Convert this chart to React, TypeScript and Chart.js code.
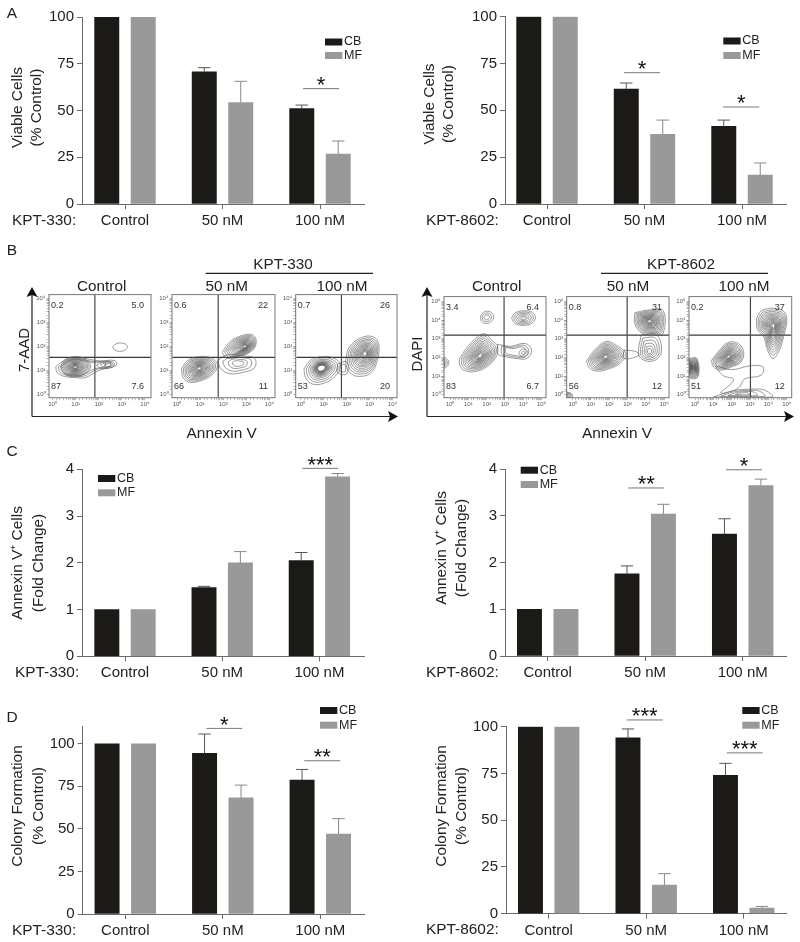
import React, { useEffect, useRef } from "react";
import { Chart, registerables } from "chart.js";

Chart.register(...registerables);
const FONT = '"Liberation Sans", Arial, sans-serif';
Chart.defaults.font.family = FONT;

// ---------- bar data ----------
const categories = ["Control", "50 nM", "100 nM"];
const viable330CB = [100, 70.7, 51];
const viable330MF = [100, 54.3, 26.7];
const viable330CBTop = [null, 72.9, 52.9];
const viable330MFTop = [null, 65.6, 33.7];
const viable8602CB = [100, 61.3, 41.5];
const viable8602MF = [100, 37.2, 15.4];
const viable8602CBTop = [null, 64.6, 44.8];
const viable8602MFTop = [null, 44.8, 21.9];
const annexin330CB = [1, 1.47, 2.05];
const annexin330MF = [1, 2.0, 3.84];
const annexin330CBTop = [null, 1.497, 2.22];
const annexin330MFTop = [null, 2.24, 3.91];
const annexin8602CB = [1, 1.76, 2.61];
const annexin8602MF = [1, 3.04, 3.65];
const annexin8602CBTop = [null, 1.93, 2.94];
const annexin8602MFTop = [null, 3.25, 3.79];
const colony330CB = [100, 94.3, 78.6];
const colony330MF = [100, 68.2, 47];
const colony330CBTop = [null, 105.7, 84.9];
const colony330MFTop = [null, 75.7, 56];
const colony8602CB = [100, 94.1, 74];
const colony8602MF = [100, 15.3, 3];
const colony8602CBTop = [null, 98.8, 80.4];
const colony8602MFTop = [null, 21.4, 3.9];

// significance brackets: [from, to (category units), value, stars]
const sigViable330 = [[1.826, 2.195, 61.7, "*"]];
const sigViable8602 = [[0.79, 1.159, 70.1, "*"], [1.808, 2.177, 51.8, "*"]];
const sigAnnexin330 = [[1.824, 2.194, 4.02, "***"]];
const sigAnnexin8602 = [[0.827, 1.196, 3.6, "**"], [1.829, 2.198, 3.99, "*"]];
const sigColony330 = [[0.831, 1.2, 109, "*"], [1.836, 2.205, 90, "**"]];
const sigColony8602 = [[0.8, 1.169, 103.6, "***"], [1.826, 2.195, 86, "***"]];

const seriesNames = ["CB", "MF"];
const CB_COLOR = "#1c1a17";
const MF_COLOR = "#999999";
const AXIS = "#6b6b6b";
const INK = "#222222";

const barPanels = [
  { box: [0, 0, 400, 232], axis: [82, 364, 17, 204], ticks: [125, 320], yMax: 100, step: 25, cb: viable330CB, mf: viable330MF, cbTop: viable330CBTop, mfTop: viable330MFTop, sig: sigViable330, prefix: ["KPT-330:", 12], title: ["Viable Cells", "(% Control)"], titleX: [18, 37], titleY: 107.5, legend: [325, 38.5, 52] },
  { box: [400, 0, 400, 232], axis: [505, 786.7, 16.7, 204], ticks: [547, 742], yMax: 100, step: 25, cb: viable8602CB, mf: viable8602MF, cbTop: viable8602CBTop, mfTop: viable8602MFTop, sig: sigViable8602, prefix: ["KPT-8602:", 426], title: ["Viable Cells", "(% Control)"], titleX: [430, 449], titleY: 104, legend: [723.3, 37.5, 52] },
  { box: [0, 440, 400, 240], axis: [82, 364, 469.3, 656.3], ticks: [125, 319.4], yMax: 4, step: 1, cb: annexin330CB, mf: annexin330MF, cbTop: annexin330CBTop, mfTop: annexin330MFTop, sig: sigAnnexin330, prefix: ["KPT-330:", 15], title: ["Annexin V\u207a Cells", "(Fold Change)"], titleX: [18, 39], titleY: 563, legend: [98, 475, 489.3] },
  { box: [400, 440, 400, 240], axis: [505, 786.7, 469.3, 656], ticks: [547.7, 742.7], yMax: 4, step: 1, cb: annexin8602CB, mf: annexin8602MF, cbTop: annexin8602CBTop, mfTop: annexin8602MFTop, sig: sigAnnexin8602, prefix: ["KPT-8602:", 426], title: ["Annexin V\u207a Cells", "(Fold Change)"], titleX: [441.7, 461.7], titleY: 548, legend: [520.7, 466.7, 481] },
  { box: [0, 695, 400, 247], axis: [82.7, 364, 726.7, 914], ticks: [125.3, 320.3], yMax: 110, step: 25, cb: colony330CB, mf: colony330MF, cbTop: colony330CBTop, mfTop: colony330MFTop, sig: sigColony330, prefix: ["KPT-330:", 12], title: ["Colony Formation", "(% Control)"], titleX: [18, 39], titleY: 806, legend: [320, 707, 721.7] },
  { box: [400, 695, 400, 247], axis: [506, 786.7, 726.7, 913.7], ticks: [548.7, 743.7], yMax: 100, step: 25, cb: colony8602CB, mf: colony8602MF, cbTop: colony8602CBTop, mfTop: colony8602MFTop, sig: sigColony8602, prefix: ["KPT-8602:", 426], title: ["Colony Formation", "(% Control)"], titleX: [441.7, 461.7], titleY: 806, legend: [742.3, 707, 721.7] },
];

// ---------- flow cytometry data (log10 coordinates) ----------
const dense = [1, 0.9, 0.81, 0.73, 0.65, 0.58, 0.52, 0.46, 0.41, 0.36, 0.31, 0.26, 0.22, 0.18, 0.14, 0.1];
const hollow = [1, 0.86, 0.73, 0.62, 0.54, 0.48, 0.43, 0.39, 0.36, 0.33, 0.3, 0.27, 0.25, 0.23, 0.21];
const mid = [1, 0.82, 0.65, 0.48, 0.32, 0.18];
const few = [1, 0.7, 0.4];
const single = [1];

const contour7aadControl = [
  { c: [0.98, 1.125], rings: [1, 0.86, 0.74], outer: [[0.14, 1.15], [0.47, 1.39], [0.98, 1.57], [1.51, 1.47], [2.06, 1.39], [2.7, 1.4], [2.75, 1.19], [2.06, 1.01], [1.41, 0.69], [0.98, 0.69], [0.47, 0.75], [0.19, 0.92]] },
  { c: [0.98, 1.125], rings: dense, outer: [[0.35, 1.15], [0.55, 1.45], [0.98, 1.55], [1.45, 1.45], [1.65, 1.15], [1.4, 0.85], [0.98, 0.72], [0.55, 0.82]] },
  { c: [2.45, 1.22], rings: few, outer: [[1.9, 1.22], [2.2, 1.34], [2.6, 1.35], [2.68, 1.22], [2.5, 1.1], [2.1, 1.08]] },
  { c: [2.92, 1.96], rings: single, outer: [[2.6, 1.96], [2.7, 2.08], [2.92, 2.14], [3.16, 2.09], [3.24, 1.98], [3.12, 1.84], [2.9, 1.79], [2.7, 1.84]] },
];
const contour7aad50 = [
  { c: [0.96, 1.08], rings: dense, outer: [[0.19, 1.05], [0.45, 1.4], [0.95, 1.57], [1.5, 1.5], [1.75, 1.2], [1.5, 0.8], [1, 0.55], [0.5, 0.5], [0.25, 0.7]] },
  { c: [2.95, 1.99], rings: dense, outer: [[1.95, 1.75], [2.3, 2.2], [2.8, 2.45], [3.3, 2.47], [3.42, 2.1], [3.15, 1.75], [2.6, 1.55], [2.15, 1.5]] },
  { c: [2.66, 1.29], rings: [1, 0.75, 0.5, 0.3], outer: [[1.75, 1.4], [2.2, 1.65], [2.8, 1.6], [3.35, 1.5], [3.35, 1.1], [2.8, 0.9], [2.3, 0.85], [1.9, 1.05]] },
];
const contour7aad100 = [
  { c: [0.89, 1.11], rings: hollow, outer: [[0.14, 1.05], [0.4, 1.4], [0.9, 1.57], [1.45, 1.5], [1.73, 1.2], [1.5, 0.75], [1, 0.45], [0.5, 0.42], [0.2, 0.7]] },
  { c: [2.8, 1.7], rings: dense, outer: [[1.95, 1.4], [2.1, 1.95], [2.6, 2.35], [3.15, 2.4], [3.4, 2.05], [3.3, 1.3], [3, 0.85], [2.5, 0.74], [2.2, 0.85], [2, 1.1]] },
  { c: [1.8, 1.08], rings: [1, 0.6], outer: [[1.6, 1.25], [2, 1.35], [2, 0.85], [1.6, 0.9]] },
];
const contourDapiControl = [
  { c: [1.64, 2.08], rings: dense, outer: [[0.5, 1.9], [0.9, 2.5], [1.5, 3.1], [1.9, 3.27], [2.3, 2.9], [2.6, 2.6], [2.5, 2], [2, 1.5], [1.4, 1.25], [0.8, 1.3], [0.55, 1.55]] },
  { c: [3.7, 2.3], rings: [1, 0.8, 0.6], outer: [[2.6, 2.7], [3.3, 2.6], [4.1, 2.75], [4.45, 2.4], [4.2, 1.95], [3.6, 1.95], [3, 2.05], [2.6, 2.2]] },
  { c: [4, 2.24], rings: [1, 0.4], outer: [[3.75, 2.24], [3.9, 2.42], [4.12, 2.42], [4.25, 2.24], [4.1, 2.06], [3.9, 2.06]] },
  { c: [2, 4.15], rings: few, outer: [[1.65, 4.15], [1.78, 4.38], [2.05, 4.48], [2.32, 4.35], [2.38, 4.12], [2.22, 3.9], [1.95, 3.82], [1.72, 3.93]] },
  { c: [4, 4.1], rings: mid, outer: [[3.36, 4.1], [3.55, 4.38], [4, 4.5], [4.5, 4.42], [4.66, 4.12], [4.45, 3.82], [4, 3.72], [3.55, 3.82]] },
  { c: [-0.33, 1.7], rings: few, outer: [[-0.33, 1.4], [-0.1, 1.6], [-0.1, 1.85], [-0.33, 2]] },
];
const contourDapi50 = [
  { c: [1.8, 2.03], rings: dense, outer: [[0.75, 1.8], [1.2, 2.4], [1.8, 2.85], [2.3, 2.7], [2.9, 2.2], [2.6, 1.7], [2, 1.4], [1.4, 1.27], [0.95, 1.4]] },
  { c: [4.2, 3.95], rings: dense, outer: [[3.4, 4.4], [3.4, 3.8], [3.8, 3.3], [4.5, 3.2], [4.95, 3.3], [4.95, 4.5], [4.2, 4.55]] },
  { c: [4.2, 2.3], rings: mid, outer: [[3.75, 3.2], [4.6, 3.2], [4.85, 2.3], [4.5, 1.85], [3.9, 1.85], [3.6, 2.2]] },
  { c: [3.2, 2.15], rings: single, outer: [[2.8, 2.4], [3.5, 2.3], [3.6, 2.1], [2.8, 1.95]] },
  { c: [-0.2, 0], rings: few, outer: [[-0.33, 0.15], [-0.05, 0.05], [-0.05, -0.14], [-0.33, -0.14]] },
];
const contourDapi100 = [
  { c: [1.82, 2.03], rings: dense, outer: [[0.9, 1.85], [1.3, 2.35], [1.8, 2.8], [2.35, 2.75], [2.65, 2.3], [2.5, 1.75], [2, 1.5], [1.4, 1.32], [1, 1.5]] },
  { c: [4.27, 3.7], rings: dense, outer: [[3.35, 4.1], [3.7, 4.55], [4.7, 4.55], [5, 4.1], [4.85, 3.2], [4.6, 2.4], [4.25, 1.95], [3.95, 2.4], [3.75, 3.1], [3.4, 3.5]] },
  { c: [-0.1, 1.45], rings: dense, outer: [[-0.33, 1.95], [0.1, 1.95], [0.15, 0.95], [-0.33, 0.95]] },
  { c: [2.6, 1.1], rings: single, outer: [[1.1, 1.55], [2, 1.35], [3, 1.55], [3.7, 1.5], [3.6, 1.05], [2.7, 0.85], [2.35, 0.35], [1.4, 0.1], [2.1, 0.8], [1.5, 1.05]] },
  { c: [2.6, 0.05], rings: [1, 0.75, 0.5, 0.25], outer: [[1, -0.12], [2, 0.2], [3, 0.3], [3.8, 0.25], [4.2, -0.12]] },
];

const quad7aadControl = ["0.2", "5.0", "87", "7.6"];
const quad7aad50 = ["0.6", "22", "66", "11"];
const quad7aad100 = ["0.7", "26", "53", "20"];
const quadDapiControl = ["3.4", "6.4", "83", "6.7"];
const quadDapi50 = ["0.8", "31", "56", "12"];
const quadDapi100 = ["0.2", "37", "51", "12"];

const flowPlots = [
  { frame: [49, 151, 294.3, 397.7], xR: [-0.14, 4.26], yR: [-0.14, 4.17], top: 4, gate: [1.83, 1.54], contours: contour7aadControl, quad: quad7aadControl },
  { frame: [172, 275, 294.3, 397.7], xR: [-0.2, 4.24], yR: [-0.14, 4.17], top: 4, gate: [1.78, 1.54], contours: contour7aad50, quad: quad7aad50 },
  { frame: [295.7, 397, 294.3, 397.7], xR: [-0.19, 4.19], yR: [-0.14, 4.17], top: 4, gate: [1.77, 1.54], contours: contour7aad100, quad: quad7aad100 },
  { frame: [444, 546, 295.7, 397.7], xR: [-0.33, 5.24], yR: [-0.14, 5.26], top: 5, gate: [2.95, 3.2], contours: contourDapiControl, quad: quadDapiControl },
  { frame: [566.7, 669, 295.7, 397.7], xR: [-0.33, 5.27], yR: [-0.14, 5.26], top: 5, gate: [2.98, 3.2], contours: contourDapi50, quad: quadDapi50 },
  { frame: [689, 791.7, 295.7, 397.7], xR: [-0.33, 5.27], yR: [-0.14, 5.26], top: 5, gate: [3.02, 3.2], contours: contourDapi100, quad: quadDapi100 },
];

// ---------- page text ----------
const pageTexts = [
  ["A", 12, 13, 15.5], ["B", 12, 250, 15.5], ["C", 12, 451, 15.5], ["D", 12, 717, 15.5],
  ["KPT-330", 283, 264, 15.3], ["KPT-8602", 681, 264, 15.3],
  ["Control", 101.7, 285.5, 15.3], ["50 nM", 226.7, 285.5, 15.3], ["100 nM", 342, 285.5, 15.3],
  ["Control", 496.7, 285.5, 15.3], ["50 nM", 628, 285.5, 15.3], ["100 nM", 744, 285.5, 15.3],
  ["Annexin V", 221.7, 433, 15.4], ["Annexin V", 617, 433, 15.4],
];
const rotatedTexts = [["7-AAD", 23, 350, 15], ["DAPI", 416, 354, 15]];

const BAR_OFFSET = 0.187;

function barConfig(p: any) {
  const [cl, ct, cw, ch] = p.box;
  const [L, R, T, B] = p.axis;
  const s = (p.ticks[1] - p.ticks[0]) / 2;
  const xMin = (L - p.ticks[0]) / s;
  const xMax = (R - p.ticks[0]) / s;
  const overlay = {
    id: "overlay",
    afterDraw(chart: any) {
      const { ctx, scales } = chart;
      const x = scales.x, y = scales.y;
      ctx.save();
      // error bars
      [[p.cb, p.cbTop, -BAR_OFFSET, "#555555"], [p.mf, p.mfTop, BAR_OFFSET, "#888888"]].forEach(([vals, tops, off, col]: any) => {
        tops.forEach((t: any, i: number) => {
          if (t == null) return;
          const px = x.getPixelForValue(i + off);
          ctx.strokeStyle = col;
          ctx.lineWidth = 1;
          ctx.beginPath();
          ctx.moveTo(px, y.getPixelForValue(vals[i]));
          ctx.lineTo(px, y.getPixelForValue(t));
          ctx.moveTo(px - 6.2, y.getPixelForValue(t));
          ctx.lineTo(px + 6.2, y.getPixelForValue(t));
          ctx.stroke();
        });
      });
      // significance
      p.sig.forEach(([a, b, v, stars]: any) => {
        const ya = y.getPixelForValue(v);
        const xa = x.getPixelForValue(a), xb = x.getPixelForValue(b);
        ctx.strokeStyle = "#777777";
        ctx.lineWidth = 1;
        ctx.beginPath();
        ctx.moveTo(xa, ya);
        ctx.lineTo(xb, ya);
        ctx.stroke();
        ctx.fillStyle = "#111111";
        ctx.font = `22px ${FONT}`;
        ctx.textAlign = "center";
        ctx.textBaseline = "alphabetic";
        ctx.fillText(stars, (xa + xb) / 2, ya + 3.5);
      });
      // legend
      const [lx, ly1, ly2] = p.legend;
      [[seriesNames[0], ly1, CB_COLOR], [seriesNames[1], ly2, MF_COLOR]].forEach(([name, ly, col]: any) => {
        ctx.fillStyle = col;
        ctx.fillRect(lx - cl, ly - ct, 17.3, 7);
        ctx.fillStyle = INK;
        ctx.font = `12.5px ${FONT}`;
        ctx.textAlign = "left";
        ctx.textBaseline = "middle";
        ctx.fillText(name, lx + 19 - cl, ly + 3.5 - ct);
      });
      // prefix
      ctx.fillStyle = INK;
      ctx.font = `15.4px ${FONT}`;
      ctx.textAlign = "left";
      ctx.textBaseline = "middle";
      ctx.fillText(p.prefix[0], p.prefix[1] - cl, B + 16.5 - ct);
      // y title
      p.title.forEach((line: string, i: number) => {
        ctx.save();
        ctx.translate(p.titleX[i] - cl, p.titleY - ct);
        ctx.rotate(-Math.PI / 2);
        ctx.textAlign = "center";
        ctx.textBaseline = "middle";
        ctx.fillText(line, 0, 0);
        ctx.restore();
      });
      ctx.restore();
    },
  };
  const toPts = (vals: number[], off: number) => vals.map((v, i) => ({ x: i + off, y: v }));
  const bar = { maxBarThickness: 24.3, barPercentage: 1, categoryPercentage: 1, grouped: false };
  return {
    type: "bar",
    data: {
      datasets: [
        { label: seriesNames[0], data: toPts(p.cb, -BAR_OFFSET), backgroundColor: CB_COLOR, ...bar },
        { label: seriesNames[1], data: toPts(p.mf, BAR_OFFSET), backgroundColor: MF_COLOR, ...bar },
      ],
    },
    options: {
      responsive: false,
      animation: false,
      events: [],
      layout: { autoPadding: false, padding: { left: 0, bottom: 0, top: T - ct, right: cl + cw - R } },
      plugins: { legend: { display: false }, tooltip: { enabled: false } },
      scales: {
        x: {
          type: "linear",
          offset: false,
          min: xMin,
          max: xMax,
          afterFit: (sc: any) => { sc.height = ct + ch - B; },
          afterBuildTicks: (sc: any) => { sc.ticks = categories.map((_, i) => ({ value: i })); },
          border: { color: AXIS, width: 1 },
          grid: { offset: false, drawOnChartArea: false, drawTicks: true, tickLength: 5, color: AXIS },
          ticks: { autoSkip: false, maxRotation: 0, padding: 3, color: INK, font: { size: 15 }, callback: (v: number) => categories[v] },
        },
        y: {
          min: 0,
          max: p.yMax,
          afterFit: (sc: any) => { sc.width = L - cl; },
          afterBuildTicks: (sc: any) => { sc.ticks = sc.ticks.filter((t: any) => t.value % p.step === 0); },
          border: { color: AXIS, width: 1 },
          grid: { drawOnChartArea: false, drawTicks: true, tickLength: 5, color: AXIS },
          ticks: { stepSize: p.step, padding: 3, color: INK, font: { size: 15 } },
        },
      },
    },
    plugins: [overlay],
  };
}

const SUP = ["\u2070", "\u00b9", "\u00b2", "\u00b3", "\u2074", "\u2075"];

function flowConfig(p: any, cl: number, ct: number, cw: number, ch: number) {
  const [L, R, T, B] = p.frame;
  const datasets: any[] = [];
  const line = (pts: number[][], color: string, width: number, tension: number) => ({
    data: pts.map(([x, y]) => ({ x: 10 ** x, y: 10 ** y })),
    showLine: true, tension, borderColor: color, borderWidth: width, pointRadius: 0, fill: false,
  });
  p.contours.forEach((blob: any) => {
    blob.rings.forEach((f: number) => {
      const pts = blob.outer.map(([x, y]: number[]) => [blob.c[0] + (x - blob.c[0]) * f, blob.c[1] + (y - blob.c[1]) * f]);
      pts.push(pts[0]);
      datasets.push(line(pts, "#575757", 0.6, 0.4));
    });
  });
  datasets.push(line([[p.gate[0], p.yR[0]], [p.gate[0], p.yR[1]]], "#484848", 1.2, 0));
  datasets.push(line([[p.xR[0], p.gate[1]], [p.xR[1], p.gate[1]]], "#383838", 1.2, 0));
  const overlay = {
    id: "flowOverlay",
    afterDraw(chart: any) {
      const { ctx, chartArea: a } = chart;
      ctx.save();
      ctx.strokeStyle = "#777777";
      ctx.lineWidth = 1;
      ctx.strokeRect(a.left, a.top, a.width, a.height);
      ctx.fillStyle = "#333333";
      ctx.font = `9px ${FONT}`;
      ctx.textBaseline = "middle";
      ctx.textAlign = "left";
      ctx.fillText(p.quad[0], a.left + 2, a.top + 11);
      ctx.fillText(p.quad[2], a.left + 2, a.bottom - 11);
      ctx.textAlign = "right";
      ctx.fillText(p.quad[1], a.right - 7, a.top + 11);
      ctx.fillText(p.quad[3], a.right - 7, a.bottom - 11);
      ctx.restore();
    },
  };
  const axis = (range: number[], top: number, fit: (s: any) => void) => ({
    type: "logarithmic",
    min: 10 ** range[0],
    max: 10 ** range[1],
    afterFit: fit,
    afterBuildTicks: (sc: any) => { sc.ticks = sc.ticks.filter((t: any) => t.value >= 0.999 && t.value <= 10 ** top * 1.001); },
    border: { display: false },
    grid: { drawOnChartArea: false, drawTicks: true, tickLength: 2.5, color: "#777777", lineWidth: 0.5 },
    ticks: {
      autoSkip: false, maxRotation: 0, padding: 1, color: "#555555", font: { size: 6 },
      callback: (v: number) => {
        const e = Math.log10(v);
        return Math.abs(e - Math.round(e)) < 1e-6 ? "10" + SUP[Math.round(e)] : "";
      },
    },
  });
  return {
    type: "scatter",
    data: { datasets },
    options: {
      responsive: false,
      animation: false,
      events: [],
      layout: { autoPadding: false, padding: { top: T - ct, right: cl + cw - R, left: 0, bottom: 0 } },
      plugins: { legend: { display: false }, tooltip: { enabled: false } },
      scales: {
        x: axis(p.xR, p.top, (s: any) => { s.height = ct + ch - B; }),
        y: axis(p.yR, p.top, (s: any) => { s.width = L - cl; }),
      },
    },
    plugins: [overlay],
  };
}

function ChartCanvas({ make, box, soft }: { make: () => any; box: number[]; soft?: boolean }) {
  const ref = useRef<HTMLCanvasElement>(null);
  useEffect(() => {
    const chart = new Chart(ref.current as any, make());
    return () => chart.destroy();
  }, []);
  return (
    <canvas
      ref={ref}
      width={box[2]}
      height={box[3]}
      style={{ position: "absolute", left: box[0], top: box[1], width: box[2], height: box[3], display: "block", filter: soft ? "blur(0.4px)" : undefined }}
    />
  );
}

export default function App() {
  return (
    <div style={{ position: "absolute", left: 0, top: 0, width: 800, height: 942, overflow: "hidden", background: "#fff", fontFamily: FONT, color: INK }}>
      {barPanels.map((p, i) => (
        <ChartCanvas key={"b" + i} box={p.box} make={() => barConfig(p)} />
      ))}
      {flowPlots.map((p, i) => {
        const box = [Math.round(p.frame[0] - 20), Math.round(p.frame[2] - 4), Math.round(p.frame[1] - p.frame[0] + 26), Math.round(p.frame[3] - p.frame[2] + 24)];
        return <ChartCanvas key={"f" + i} soft box={box} make={() => flowConfig(p, box[0], box[1], box[2], box[3])} />;
      })}
      <svg width={800} height={942} style={{ position: "absolute", left: 0, top: 0 }}>
        <g stroke="#222" strokeWidth={1.2} fill="none">
          <path d="M205.7 273.3H373M601 273.3H768" />
          <path d="M32 416.5V292M32 416.5H393M427 416.5V292M427 416.5H789" />
        </g>
        <g fill="#111">
          <path d="M32 287l-5.5 10 5.5-2 5.5 2z" />
          <path d="M427 287l-5.5 10 5.5-2 5.5 2z" />
          <path d="M398 416.5l-10-5.5 2 5.5-2 5.5z" />
          <path d="M794 416.5l-10-5.5 2 5.5-2 5.5z" />
        </g>
      </svg>
      {pageTexts.map(([t, x, y, s]: any, i) => (
        <div key={"t" + i} style={{ position: "absolute", left: x, top: y, fontSize: s, lineHeight: 1, transform: "translate(-50%,-50%)", whiteSpace: "nowrap" }}>{t}</div>
      ))}
      {rotatedTexts.map(([t, x, y, s]: any, i) => (
        <div key={"r" + i} style={{ position: "absolute", left: x, top: y, fontSize: s, lineHeight: 1, transform: "translate(-50%,-50%) rotate(-90deg)", whiteSpace: "nowrap" }}>{t}</div>
      ))}
    </div>
  );
}
